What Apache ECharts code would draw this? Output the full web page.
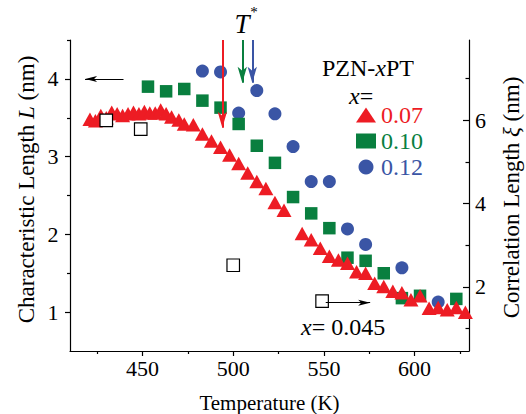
<!DOCTYPE html>
<html><head><meta charset="utf-8">
<script src="https://cdn.jsdelivr.net/npm/echarts@6/dist/echarts.min.js"></script>
<style>html,body{margin:0;padding:0;background:#fff}#c{width:526px;height:414px}</style>
</head><body><div id="c"></div>
<script>
// x = 0.07 (red triangles), left axis L (nm)
const temps007 = [421, 424, 427, 430, 433, 436, 439, 442, 445, 448, 451, 454, 457, 460, 463, 466, 470, 473, 478,
  483, 488, 493, 498, 503, 508, 513, 518, 523, 528, 538, 543, 548, 553, 558, 563, 568, 573, 578, 583, 588, 593, 598,
  603, 608, 613, 618, 623, 628];
const len007 = [3.48, 3.46, 3.53, 3.50, 3.57, 3.55, 3.53, 3.55, 3.57, 3.55, 3.58, 3.56, 3.56, 3.60, 3.55, 3.51, 3.47, 3.42, 3.41,
  3.29, 3.20, 3.12, 3.02, 2.91, 2.79, 2.68, 2.59, 2.41, 2.31, 2.01, 1.93, 1.82, 1.72, 1.67, 1.63, 1.52, 1.50, 1.37, 1.33, 1.27, 1.25, 1.16,
  1.21, 1.05, 1.06, 1.03, 1.06, 1.00];
// x = 0.10 (green squares)
const temps010 = [453, 463, 473, 483, 493, 503, 513, 523, 533, 543, 553, 563, 573, 583, 593, 603, 623];
const len010 = [3.90, 3.84, 3.87, 3.72, 3.63, 3.42, 3.14, 2.92, 2.48, 2.27, 2.08, 1.70, 1.66, 1.50, 1.18, 1.21, 1.17];
// x = 0.12 (blue circles)
const temps012 = [483, 493, 503, 513, 523, 533, 543, 553, 563, 573, 593, 613];
const len012 = [4.10, 4.09, 3.56, 3.85, 3.55, 3.13, 2.68, 2.68, 2.07, 1.87, 1.57, 1.13];
// x = 0.045 (open squares), right axis xi (nm)
const temps0045 = [430, 449, 500, 549];
const corr0045 = [6.0, 5.79, 2.52, 1.66];

const seriesNames = ['0.07', '0.10', '0.12'];
const xTickLabels = [450, 500, 550, 600];
const xMinorTicks = [425, 475, 525, 575, 625];
const yLeftTickLabels = [1, 2, 3, 4];
const yLeftMinorTicks = [1.5, 2.5, 3.5, 4.5];
const yRightTickLabels = [2, 4, 6];
const yRightMinorTicks = [1, 3, 5, 7];

// T* arrows (temperature, arrow tip L)
const tStarTemps = [494, 505, 510.5];
const tStarTips = [3.37, 3.95, 3.95];
// axis pointer arrows (tail, tip)
const leftArrow = [[439.5, 4.0], [418.3, 4.0]];
const rightArrow = [[551, 1.62], [575.5, 1.62]];

const RED = '#ED1C24', GREEN = '#097F3F', BLUE = '#3A55A5';
const SERIF = '"Liberation Serif", "Times New Roman", serif';
const X_MIN = 410, X_MAX = 630, L_MIN = 0.5, L_MAX = 4.5, XI_MIN = 0.46, XI_MAX = 7.93;
const LEG_LEFT = 356, LEG_TOP = 102, LEG_ROW = 26, LEG_ICON_W = 20;

function pairs(xs, ys) { return xs.map((x, i) => [x, ys[i]]); }
function tArrow(t, tip, color) {
  return {
    silent: true, animation: false, z: 6, symbol: ['none', 'arrow'], symbolSize: [7, 16],
    label: { show: false }, emphasis: { disabled: true },
    lineStyle: { color: color, width: 2, type: 'solid' },
    itemStyle: { color: color },
    data: [[{ coord: [t, L_MAX] }, { coord: [t, tip] }]]
  };
}
function blackArrow(a) {
  return {
    silent: true, animation: false, z: 6, symbol: ['none', 'arrow'], symbolSize: [4.5, 12],
    label: { show: false }, emphasis: { disabled: true },
    lineStyle: { color: '#000', width: 1, type: 'solid' },
    itemStyle: { color: '#000' },
    data: [[{ coord: a[0] }, { coord: a[1] }]]
  };
}
const axisLineStyle = { color: '#000', width: 1.2 };
function richText(size, color) {
  const c = color || '#000';
  return {
    n: { fontFamily: SERIF, fontSize: size, fill: c, color: c },
    i: { fontFamily: SERIF, fontSize: size, fontStyle: 'italic', fill: c, color: c }
  };
}
function textEl(x, y, text, size, align, vAlign, color, rotation) {
  const el = {
    type: 'text', silent: true, z: 10, x: x, y: y,
    style: { x: 0, y: 0, text: text, align: align, verticalAlign: vAlign, rich: richText(size, color) }
  };
  if (rotation) el.rotation = rotation;
  return el;
}
function baseGraphic() {
  return [
    textEl(322, 68, '{n|PZN-}{i|x}{n|PT}', 24, 'left', 'middle'),
    textEl(349, 96, '{i|x}{n|=}', 24, 'left', 'middle'),
    textEl(301, 327, '{i|x}{n|= 0.045}', 24, 'left', 'middle'),
    textEl(242, 24, '{i|T}', 27, 'center', 'middle'),
    textEl(254, 12, '{n|*}', 15, 'center', 'middle')
  ];
}

function makeOption() {
  return {
    animation: false,
    backgroundColor: '#fff',
    grid: { left: 70, right: 57, top: 40, bottom: 63, containLabel: false },
    legend: {
      orient: 'vertical', left: LEG_LEFT, top: LEG_TOP, padding: 0, itemGap: 0,
      itemWidth: LEG_ICON_W, itemHeight: 15, selectedMode: false,
      formatter: function () { return ' '; },
      textStyle: { fontFamily: SERIF, fontSize: 24, lineHeight: LEG_ROW },
      data: [
        { name: seriesNames[0], icon: 'triangle' },
        { name: seriesNames[1], icon: 'rect' },
        { name: seriesNames[2], icon: 'circle' }
      ]
    },
    xAxis: [
      {
        type: 'value', min: X_MIN, max: X_MAX, position: 'bottom',
        axisLine: { onZero: false, lineStyle: axisLineStyle },
        axisTick: { customValues: xTickLabels, length: 5, lineStyle: axisLineStyle },
        axisLabel: { show: false }, splitLine: { show: false }
      },
      {
        type: 'value', min: X_MIN, max: X_MAX, position: 'bottom',
        axisLine: { show: false, onZero: false },
        axisTick: { customValues: xMinorTicks, length: 3, lineStyle: axisLineStyle },
        axisLabel: { show: false }, splitLine: { show: false }
      }
    ],
    yAxis: [
      {
        type: 'value', min: L_MIN, max: L_MAX, position: 'left',
        axisLine: { show: true, onZero: false, lineStyle: axisLineStyle },
        axisTick: { customValues: yLeftTickLabels, length: 5, lineStyle: axisLineStyle },
        axisLabel: { show: false }, splitLine: { show: false }
      },
      {
        type: 'value', min: L_MIN, max: L_MAX, position: 'left',
        axisLine: { show: false, onZero: false },
        axisTick: { customValues: yLeftMinorTicks, length: 3, lineStyle: axisLineStyle },
        axisLabel: { show: false }, splitLine: { show: false }
      },
      {
        type: 'value', min: XI_MIN, max: XI_MAX, position: 'right',
        axisLine: { show: true, onZero: false, lineStyle: axisLineStyle },
        axisTick: { inside: true, customValues: yRightTickLabels, length: 6, lineStyle: axisLineStyle },
        axisLabel: { show: false }, splitLine: { show: false }
      },
      {
        type: 'value', min: XI_MIN, max: XI_MAX, position: 'right',
        axisLine: { show: false, onZero: false },
        axisTick: { inside: true, customValues: yRightMinorTicks, length: 3.5, lineStyle: axisLineStyle },
        axisLabel: { show: false }, splitLine: { show: false }
      }
    ],
    series: [
      {
        name: seriesNames[2], type: 'scatter', xAxisIndex: 0, yAxisIndex: 0, z: 2,
        symbol: 'circle', symbolSize: 13, itemStyle: { color: BLUE, opacity: 1 },
        data: pairs(temps012, len012),
        markLine: tArrow(tStarTemps[2], tStarTips[2], BLUE)
      },
      {
        name: seriesNames[1], type: 'scatter', xAxisIndex: 0, yAxisIndex: 0, z: 3,
        symbol: 'rect', symbolSize: 12.5, itemStyle: { color: GREEN, opacity: 1 },
        data: pairs(temps010, len010),
        markLine: tArrow(tStarTemps[1], tStarTips[1], GREEN)
      },
      {
        name: seriesNames[0], type: 'scatter', xAxisIndex: 0, yAxisIndex: 0, z: 4,
        symbol: 'triangle', symbolSize: [15, 13.5], itemStyle: { color: RED, opacity: 1 },
        data: pairs(temps007, len007),
        markLine: tArrow(tStarTemps[0], tStarTips[0], RED)
      },
      {
        name: '0.045', type: 'scatter', xAxisIndex: 0, yAxisIndex: 2, z: 5,
        symbol: 'rect', symbolSize: 12.5,
        itemStyle: { color: '#fff', borderColor: '#000', borderWidth: 1.2, opacity: 1 },
        data: pairs(temps0045, corr0045),
        markLine: blackArrow(rightArrow)
      },
      {
        name: 'arrowL', type: 'scatter', xAxisIndex: 0, yAxisIndex: 0, z: 5,
        data: [], markLine: blackArrow(leftArrow)
      }
    ],
    graphic: baseGraphic()
  };
}

const chart = echarts.init(document.getElementById('c'), null, { renderer: 'svg' });

function buildTextGraphics() {
  const px = v => chart.convertToPixel({ xAxisIndex: 0 }, v);
  const pyL = v => chart.convertToPixel({ yAxisIndex: 0 }, v);
  const pyR = v => chart.convertToPixel({ yAxisIndex: 2 }, v);
  const left = px(X_MIN), right = px(X_MAX), bottom = pyL(L_MIN), top = pyL(L_MAX);
  const mid = (top + bottom) / 2;
  const g = [];
  xTickLabels.forEach(v => g.push(textEl(px(v), bottom + 6, '{n|' + v + '}', 22, 'center', 'top')));
  yLeftTickLabels.forEach(v => g.push(textEl(left - 11.5, pyL(v), '{n|' + v + '}', 22, 'right', 'middle')));
  yRightTickLabels.forEach(v => g.push(textEl(right + 6, pyR(v), '{n|' + v + '}', 22, 'left', 'middle')));
  g.push(textEl((left + right) / 2, bottom + 41, '{n|Temperature (K)}', 21, 'center', 'top'));
  g.push(textEl(left - 44, mid - 6, '{n|Characteristic Length }{i|L}{n| (nm)}', 23, 'center', 'middle', '#000', Math.PI / 2));
  g.push(textEl(right + 42, mid + 2, '{n|Correlation Length }{i|ξ}{n| (nm)}', 23, 'center', 'middle', '#000', Math.PI / 2));
  const legColors = [RED, GREEN, BLUE];
  seriesNames.forEach((name, i) => g.push(
    textEl(LEG_LEFT + LEG_ICON_W + 5, LEG_TOP + LEG_ROW / 2 + i * LEG_ROW, '{n|' + name + '}', 24, 'left', 'middle', legColors[i])));
  return g;
}

function render() {
  chart.clear();
  chart.setOption(makeOption());
  chart.setOption({ graphic: baseGraphic().concat(buildTextGraphics()) });
}
render();
if (document.fonts && document.fonts.load) {
  Promise.all([
    document.fonts.load('22px "Liberation Serif"'),
    document.fonts.load('italic 22px "Liberation Serif"')
  ]).then(render, render);
}
setTimeout(render, 250);
</script>
</body></html>
